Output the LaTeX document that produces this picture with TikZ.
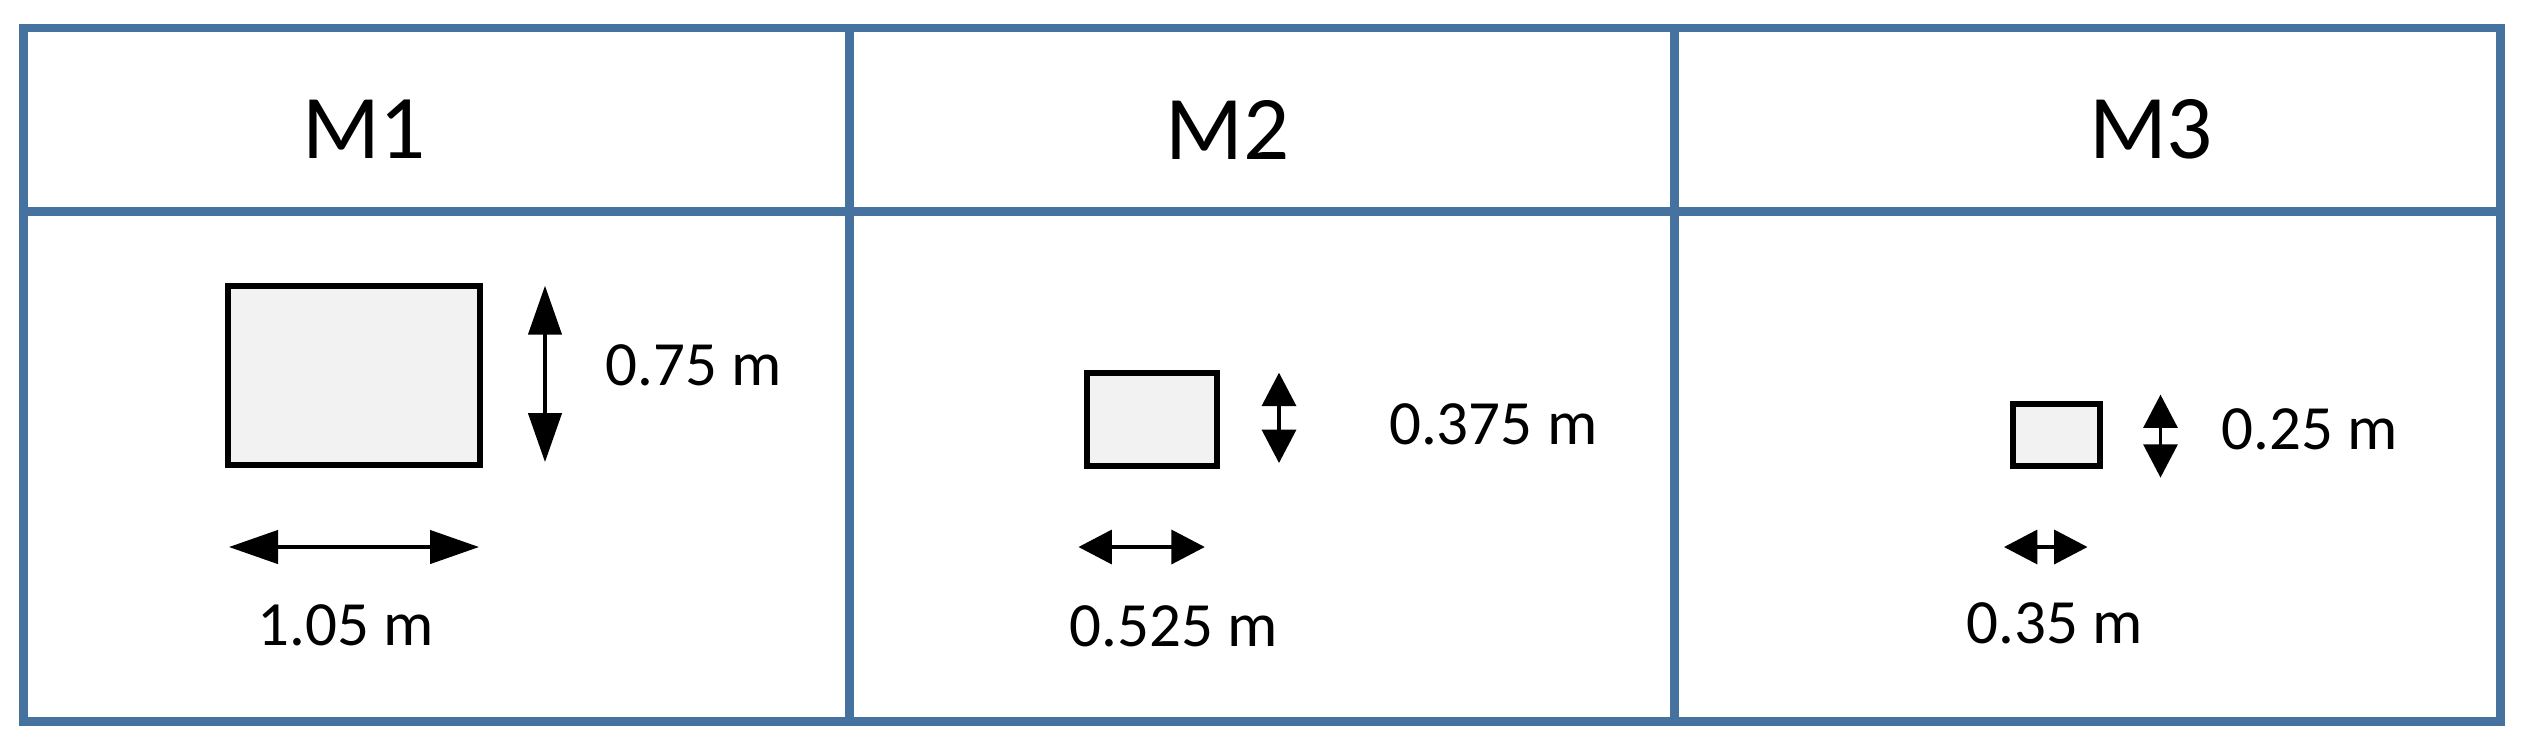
\documentclass[tikz,border=0pt]{standalone}
\usepackage{fontspec}
\setmainfont{Carlito}
\usetikzlibrary{arrows.meta}
\definecolor{gridblue}{RGB}{69,114,158}
\definecolor{boxfill}{RGB}{242,242,242}
\tikzset{
  gridline/.style={draw=gridblue, line width=2.65pt},
  sample/.style={draw=black, fill=boxfill, line width=1.8pt, inner sep=0pt, minimum width=#1},
  head/.style={font=\fontsize{27.3pt}{32pt}\selectfont, inner sep=0pt},
  dimlabel/.style={font=\fontsize{18.9pt}{22pt}\selectfont, inner sep=0pt},
  bigdim/.style={line width=1pt, {Triangle[length=14.7pt,width=10pt]}-{Triangle[length=14.7pt,width=10pt]}},
  smalldim/.style={line width=1pt, {Triangle[length=10pt,width=10.2pt]}-{Triangle[length=10pt,width=10.2pt]}}
}
\begin{document}
\begin{tikzpicture}[x=0.3pt, y=-0.3pt]
\useasboundingbox (0,0) rectangle (2527,747);
% table
\draw[gridline] (23.3,28) rectangle (2500.3,721.3);
\draw[gridline] (23.3,211.3) -- (2500.3,211.3);
\draw[gridline] (849.5,28) -- (849.5,721.3);
\draw[gridline] (1674.5,28) -- (1674.5,721.3);
% headers
\node[head] (h1) at (364,129) {M1};
\node[head] (h2) at (1227.5,129.6) {M2};
\node[head] (h3) at (2151,129) {M3};
% M1
\node[sample=75.5pt, minimum height=53.8pt] (r1) at (353.8,375.4) {};
\coordinate (v1a) at (545,285.7);
\coordinate (v1b) at (545,462);
\draw[bigdim] (v1a) -- (v1b);
\node[dimlabel, anchor=west] (l1v) at (605,365) {0.75 m};
\coordinate (h1a) at (229,547);
\coordinate (h1b) at (479,547);
\draw[bigdim] (h1a) -- (h1b);
\node[dimlabel] (l1h) at (346,625.6) {1.05 m};
% M2
\node[sample=39pt, minimum height=28pt] (r2) at (1151.6,419.4) {};
\coordinate (v2a) at (1279,372.7);
\coordinate (v2b) at (1279,463);
\draw[smalldim] (v2a) -- (v2b);
\node[dimlabel, anchor=west] (l2v) at (1388.5,424) {0.375 m};
\coordinate (h2a) at (1078.5,547);
\coordinate (h2b) at (1204.8,547);
\draw[smalldim] (h2a) -- (h2b);
\node[dimlabel] (l2h) at (1174,625.8) {0.525 m};
% M3
\node[sample=26pt, minimum height=18.6pt] (r3) at (2056.2,435) {};
\coordinate (v3a) at (2160.5,394.6);
\coordinate (v3b) at (2160.5,477.6);
\draw[smalldim] (v3a) -- (v3b);
\node[dimlabel, anchor=west] (l3v) at (2221,429) {0.25 m};
\coordinate (h3a) at (2004,547);
\coordinate (h3b) at (2087.5,547);
\draw[smalldim] (h3a) -- (h3b);
\node[dimlabel] (l3h) at (2055,623) {0.35 m};
\end{tikzpicture}
\end{document}
